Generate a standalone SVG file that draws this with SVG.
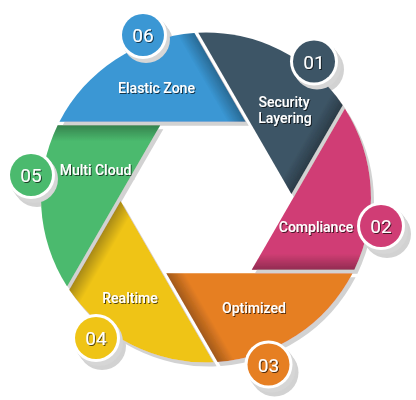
<svg xmlns="http://www.w3.org/2000/svg" width="416" height="400" viewBox="0 0 416 400">
  <style>
    .label { font-family: Roboto, "Liberation Sans", sans-serif; font-size: 14px; font-weight: 500; fill: #fff; text-anchor: middle; filter: url(#textShadow); }
    .num { font-family: Roboto, "Liberation Sans", sans-serif; font-size: 19px; font-weight: 400; fill: #fff; text-anchor: middle; filter: url(#textShadow); }
    .badge-shadow { fill: #d6d6d6; }
    .badge-ring { fill: #fff; }
    .shade { fill: url(#edgeShade); }
  </style>
  <defs>
    <!-- one shutter blade, drawn about the ring centre; the others are rotations of it -->
    <path id="blade" d="M39.69 -75.75 L-146.58 -75.75 A165 165 0 0 1 -11.60 -164.59 Z"/>
    <!-- darkening along the blade edge that tucks under its neighbour -->
    <linearGradient id="edgeShade" gradientUnits="userSpaceOnUse" x1="62.57" y1="-36.13" x2="48.71" y2="-28.13">
      <stop offset="0" stop-color="#000" stop-opacity="0.3"/>
      <stop offset="1" stop-color="#000" stop-opacity="0"/>
    </linearGradient>
    <filter id="dropShadow" x="-10%" y="-10%" width="125%" height="125%">
      <feDropShadow dx="3" dy="4" stdDeviation="0.7" flood-color="#d2d2d2" flood-opacity="1"/>
    </filter>
    <filter id="textShadow" x="-10%" y="-30%" width="130%" height="170%">
      <feDropShadow dx="1" dy="1" stdDeviation="0.5" flood-color="#000" flood-opacity="0.65"/>
    </filter>
  </defs>

  <g id="shutter" filter="url(#dropShadow)">
    <g id="node-06">
      <use href="#blade" transform="translate(206 197.5)" fill="#3a97d4"/>
      <use href="#blade" transform="translate(206 197.5)" class="shade"/>
      <text class="label" x="156.5" y="93">Elastic Zone</text>
      <circle class="badge-shadow" cx="146" cy="39" r="24"/>
      <circle class="badge-ring" cx="143" cy="35" r="24"/>
      <circle cx="143" cy="35" r="21" fill="#3a97d4"/>
      <text class="num" x="143" y="42">06</text>
    </g>
    <g id="node-01">
      <use href="#blade" transform="translate(206 197.5) rotate(60)" fill="#3d5566"/>
      <use href="#blade" transform="translate(206 197.5) rotate(60)" class="shade"/>
      <text class="label" x="284" y="106.5">Security</text>
      <text class="label" x="285" y="123">Layering</text>
      <circle class="badge-shadow" cx="317" cy="65.5" r="24"/>
      <circle class="badge-ring" cx="314" cy="61.5" r="24"/>
      <circle cx="314" cy="61.5" r="21" fill="#3d5566"/>
      <text class="num" x="314" y="68.5">01</text>
    </g>
    <g id="node-02">
      <use href="#blade" transform="translate(206 197.5) rotate(120)" fill="#d03e74"/>
      <use href="#blade" transform="translate(206 197.5) rotate(120)" class="shade"/>
      <text class="label" x="316" y="232">Compliance</text>
      <circle class="badge-shadow" cx="384" cy="230" r="24"/>
      <circle class="badge-ring" cx="381" cy="226" r="24"/>
      <circle cx="381" cy="226" r="21" fill="#d03e74"/>
      <text class="num" x="381" y="233">02</text>
    </g>
    <g id="node-03">
      <use href="#blade" transform="translate(206 197.5) rotate(180)" fill="#e67f24"/>
      <use href="#blade" transform="translate(206 197.5) rotate(180)" class="shade"/>
      <text class="label" x="254" y="313">Optimized</text>
      <circle class="badge-shadow" cx="271.5" cy="368.5" r="24"/>
      <circle class="badge-ring" cx="268.5" cy="364.5" r="24"/>
      <circle cx="268.5" cy="364.5" r="21" fill="#e67f24"/>
      <text class="num" x="268.5" y="371.5">03</text>
    </g>
    <g id="node-04">
      <use href="#blade" transform="translate(206 197.5) rotate(240)" fill="#efc419"/>
      <use href="#blade" transform="translate(206 197.5) rotate(240)" class="shade"/>
      <text class="label" x="130" y="303">Realtime</text>
      <circle class="badge-shadow" cx="99" cy="342" r="24"/>
      <circle class="badge-ring" cx="96" cy="338" r="24"/>
      <circle cx="96" cy="338" r="21" fill="#efc419"/>
      <text class="num" x="96" y="345">04</text>
    </g>
    <g id="node-05">
      <use href="#blade" transform="translate(206 197.5) rotate(300)" fill="#4bba6e"/>
      <use href="#blade" transform="translate(206 197.5) rotate(300)" class="shade"/>
      <text class="label" x="95.5" y="175">Multi Cloud</text>
      <circle class="badge-shadow" cx="34" cy="179" r="24"/>
      <circle class="badge-ring" cx="31" cy="175" r="24"/>
      <circle cx="31" cy="175" r="21" fill="#4bba6e"/>
      <text class="num" x="31" y="182">05</text>
    </g>
  </g>
</svg>
